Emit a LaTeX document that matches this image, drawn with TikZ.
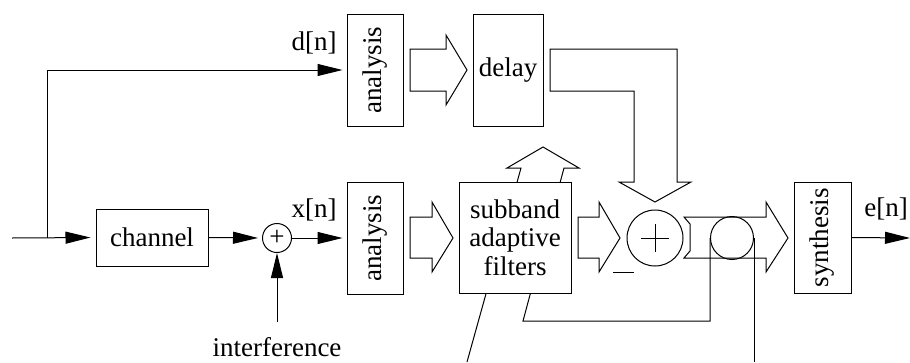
\documentclass[tikz,border=0pt]{standalone}
\usepackage{fontspec}
\setmainfont{Liberation Serif}
\usetikzlibrary{arrows.meta}
\begin{document}
\begin{tikzpicture}[x=1pt,y=-1pt, line width=1pt,
  every node/.style={font=\fontsize{27}{28.5}\selectfont, inner sep=0pt},
  blk/.style={draw, fill=white},
  vblk/.style={blk, minimum width=56pt, minimum height=112pt},
  sig/.style={-{Triangle[length=25pt,width=12pt]}},
  hollow/.style={draw, fill=white, line join=miter},
  thin/.style={draw, line join=miter}]
\useasboundingbox (0,0) rectangle (910,362);

% hollow (band) arrows
\draw[hollow] (410,49) -- (446,49) -- (446,35) -- (467,70) -- (446,105) -- (446,91) -- (410,91) -- cycle;
\draw[hollow] (550,49) -- (677,49) -- (677,182) -- (691,182) -- (655,202) -- (619,182) -- (634,182) -- (634,91) -- (550,91) -- cycle;
\draw[hollow] (410,217) -- (432,217) -- (432,202) -- (453,238) -- (432,272) -- (432,258) -- (410,258) -- cycle;
\draw[hollow] (578,217) -- (599,217) -- (599,202) -- (620,238) -- (599,272) -- (599,258) -- (578,258) -- cycle;
\draw[hollow] (684,217) -- (766,217) -- (766,202) -- (788,238) -- (766,272) -- (766,258) -- (684,258) -- (690,251) -- (690,224) -- cycle;

% nodes
\node[vblk] (anaD) at (375,70) {\rotatebox{90}{analysis}};
\node[blk, minimum width=70pt, minimum height=112pt] (delay) at (508,70) {delay};
\node[blk, minimum width=112pt, minimum height=57pt] (chan) at (152,237.5) {channel};
\node[draw, circle, minimum size=29pt] (sum1) at (277,238) {+};
\node[vblk] (anaX) at (375,238) {\rotatebox{90}{analysis}};
\node[draw, circle, minimum size=43pt] (circ) at (732,238) {};

% adaptation arrow through the filter box
\draw[thin] (467,362) -- (521,168) -- (507,168) -- (543,147) -- (579,168) -- (564,168) -- (523,321) -| (circ.west);
\coordinate (errout) at (753,362);
\draw (circ.east) -- (circ.east |- errout);

\node[blk, minimum width=112pt, minimum height=111pt, align=center] (sub) at (515,237.5) {subband\\adaptive\\filters};
\node[draw, circle, minimum size=56pt,
  path picture={
    \draw ([xshift=-14pt]path picture bounding box.center) -- ([xshift=14pt]path picture bounding box.center);
    \draw ([yshift=-14pt]path picture bounding box.center) -- ([yshift=14pt]path picture bounding box.center);
  }] (sum2) at (655,238) {};
\node (minus) at (623.5,272) {\rule{21pt}{1pt}};
\node[blk, minimum width=57pt, minimum height=111pt] (syn) at (822.5,237.5) {\rotatebox{90}{synthesis}};

% labels
\node (dlab) at (314,43) {d[n]};
\node (xlab) at (314,210) {x[n]};
\node (elab) at (886,209) {e[n]};
\node (intftext) at (277,347) {interference};

% signal connectors
\coordinate (in) at (12,238);
\coordinate (split) at (47,238);
\coordinate (intf) at (277,322);
\coordinate (out) at (910,238);
\draw[sig, shorten >=5pt] (in) -- (chan.west);
\draw[sig, shorten >=4pt] (split) |- (anaD.west);
\draw[sig, shorten >=4pt] (chan.east) -- (sum1.west);
\draw[sig, shorten >=4pt] (sum1.east) -- (anaX.west);
\draw[sig] (intf) -- (sum1.south);
\draw[sig] (syn.east) -- (out);
\end{tikzpicture}
\end{document}
